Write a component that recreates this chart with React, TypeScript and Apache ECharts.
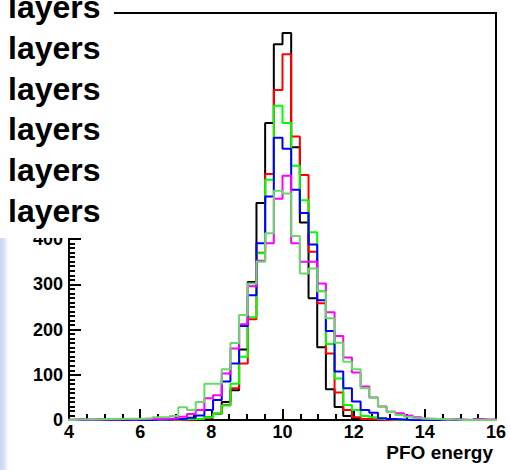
import { useEffect, useRef } from "react";
import * as echarts from "echarts";

// Histogram binning: bins of width 10/41 GeV, the first stored bin starts at 16 * width.
const binWidth = 10 / 41;
const firstBinIndex = 16;

// Counts per bin, one array per configuration (bins 16..65).
const countsBlack = [
  0, 0, 0, 0, 0, 0, 0, 0, 0, 0, 0, 0,
  1, 1, 2, 3, 6, 14, 40, 66, 156, 305, 480, 657, 831, 856, 603, 437, 269, 161, 68, 29, 9, 3, 1,
  0, 0, 0, 0, 0, 0, 0, 0, 0, 0, 0, 0, 0, 0, 0,
];
const countsRed = [
  0, 0, 0, 0, 0, 0, 0, 0, 0, 0, 0, 0, 0, 0,
  1, 2, 5, 14, 33, 70, 125, 223, 370, 544, 730, 809, 627, 542, 372, 258, 147, 61, 22, 6, 2, 1,
  0, 0, 0, 0, 0, 0, 0, 0, 0, 0, 0, 0, 0, 0,
];
const countsGreen = [
  0, 0, 0, 0, 0, 0, 0, 0, 0, 0, 0,
  1, 1, 2, 2, 3, 6, 14, 32, 80, 140, 227, 369, 531, 695, 657, 562, 486, 415, 285, 168, 92, 33, 22, 9, 6, 2, 1,
  0, 0, 0, 0, 0, 0, 0, 0, 0, 0, 0, 0,
];
const countsBlue = [
  0, 0, 0, 0, 0, 0, 0, 0, 0, 0,
  1, 1, 2, 3, 5, 10, 22, 44, 85, 125, 208, 276, 391, 494, 624, 600, 509, 458, 388, 265, 197, 107, 70, 41, 22, 16, 4, 2, 1,
  0, 0, 0, 0, 0, 0, 0, 0, 0, 0, 0,
];
const countsMagenta = [
  1, 2, 1, 2, 1, 1, 2, 1, 2, 3,
  2, 3, 4, 7, 13, 22, 48, 55, 103, 158,
  212, 296, 352, 391, 489, 540, 391, 350, 350, 302,
  238, 186, 138, 105, 74, 50, 30, 18, 15, 10,
  6, 3, 2, 1, 2, 1, 0, 2, 1, 2,
];
const countsLightGreen = [
  0, 1, 1, 1, 2, 2, 3, 3, 3, 4,
  6, 6, 9, 28, 22, 40, 80, 80, 112, 170,
  232, 302, 350, 413, 507, 501, 407, 324, 335, 284,
  225, 171, 129, 112, 70, 50, 30, 18, 11, 7,
  4, 3, 2, 1, 1, 0, 0, 0, 0, 0,
];

const allCounts = [countsBlack, countsRed, countsGreen, countsBlue, countsMagenta, countsLightGreen];
const seriesColors = ["#000000", "#ff0000", "#00ff00", "#0000ff", "#ff00ff", "#66d966"];
const legendLabels = ["layers", "layers", "layers", "layers", "layers", "layers"];

const xMin = 4;
const xMax = 16;
const xStep = 2;
const yMin = 0;
const yMax = 900;
const yStep = 100;
// Y labels above this value sit under the legend box and are left blank.
const yLabelLimit = 400;
const xTitle = "PFO energy";

const FONT = '"Liberation Sans", Arial, Helvetica, sans-serif';

function stepPoints(counts: number[]): [number, number][] {
  const pts: [number, number][] = counts.map((c, i) => [(firstBinIndex + i) * binWidth, c]);
  pts.push([(firstBinIndex + counts.length) * binWidth, counts[counts.length - 1]]);
  return pts;
}

export default function App() {
  const ref = useRef<HTMLDivElement>(null);

  useEffect(() => {
    if (!ref.current) return;
    const chart = echarts.init(ref.current, null, { renderer: "svg" });

    const series = allCounts.map((counts, i) => ({
      type: "line" as const,
      step: "end" as const,
      data: stepPoints(counts),
      showSymbol: false,
      symbol: "none",
      clip: true,
      z: 2 + i,
      lineStyle: { color: seriesColors[i], width: 2 },
      itemStyle: { color: seriesColors[i] },
    }));

    const legendTexts = legendLabels.map((label, i) => ({
      type: "text" as const,
      x: 8,
      y: 7 + 40.8 * i,
      z: 101,
      style: {
        text: label,
        fill: "#000",
        fontSize: 32,
        lineHeight: 34,
        fontWeight: "bold",
        fontFamily: FONT,
        align: "left",
        verticalAlign: "middle",
      },
    }));

    chart.setOption({
      animation: false,
      backgroundColor: "#ffffff",
      grid: {
        left: 69,
        right: 14,
        top: 13,
        bottom: 50,
        show: true,
        borderColor: "#000",
        borderWidth: 2,
        backgroundColor: "transparent",
      },
      xAxis: {
        type: "value",
        min: xMin,
        max: xMax,
        interval: xStep,
        axisLine: { show: true, lineStyle: { color: "#000", width: 2 } },
        axisTick: { show: true, inside: true, length: 11, lineStyle: { color: "#000", width: 2 } },
        minorTick: { show: true, splitNumber: 4, length: 6, lineStyle: { color: "#000", width: 2 } },
        splitLine: { show: false },
        axisLabel: {
          color: "#000",
          fontSize: 18,
          fontWeight: "bold",
          fontFamily: FONT,
          margin: 3,
          showMinLabel: true,
          showMaxLabel: true,
        },
      },
      yAxis: {
        type: "value",
        min: yMin,
        max: yMax,
        interval: yStep,
        axisLine: { show: true, lineStyle: { color: "#000", width: 2 } },
        axisTick: { show: true, inside: true, length: 12, lineStyle: { color: "#000", width: 2 } },
        minorTick: { show: true, splitNumber: 10, length: 6, lineStyle: { color: "#000", width: 2 } },
        splitLine: { show: false },
        axisLabel: {
          color: "#000",
          fontSize: 18,
          fontWeight: "bold",
          fontFamily: FONT,
          margin: 6,
          formatter: (v: number) => (v <= yLabelLimit ? String(v) : ""),
        },
      },
      series,
      graphic: [
        {
          type: "rect",
          shape: { x: 0, y: 238, width: 10, height: 232 },
          z: 100,
          style: {
            fill: new echarts.graphic.LinearGradient(0, 0, 1, 0, [
              { offset: 0, color: "#c4d5ef" },
              { offset: 0.5, color: "#dde7f6" },
              { offset: 1, color: "rgba(255,255,255,0)" },
            ]),
          },
        },
        {
          type: "rect",
          shape: { x: 0, y: 0, width: 114, height: 238 },
          z: 100,
          style: { fill: "#ffffff" },
        },
        ...legendTexts,
        {
          type: "text",
          x: 493,
          y: 452,
          z: 101,
          style: {
            text: xTitle,
            fill: "#000",
            fontSize: 19,
            fontWeight: "bold",
            fontFamily: FONT,
            align: "right",
            verticalAlign: "middle",
          },
        },
      ],
    });

    return () => chart.dispose();
  }, []);

  return (
    <div
      ref={ref}
      style={{ position: "absolute", left: 0, top: 0, width: 510, height: 470, background: "#fff" }}
    />
  );
}
